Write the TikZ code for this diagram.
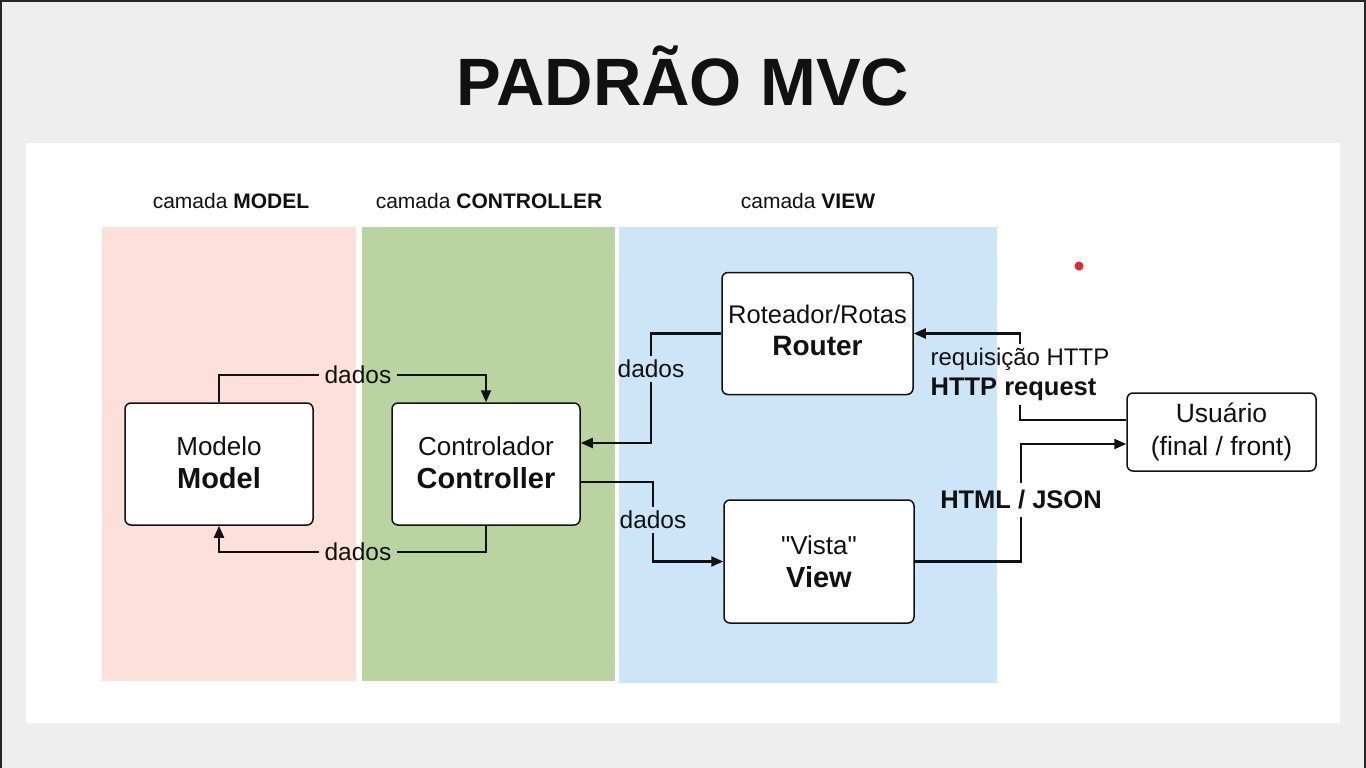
\documentclass[tikz,border=0pt]{standalone}
\usepackage{fontspec}
\setmainfont{Liberation Sans}
% same family without TeX ligatures, so a typed " stays straight
\newfontfamily\plainsans{Liberation Sans}
\usetikzlibrary{arrows.meta}
\definecolor{pagegray}{HTML}{EEEEEE}
\definecolor{modelpink}{HTML}{FDE0D9}
\definecolor{ctrlgreen}{HTML}{B9D4A0}
\definecolor{viewblue}{HTML}{CCE5F7}
\definecolor{dotred}{HTML}{E8262A}
\definecolor{ink}{HTML}{111111}

\begin{document}
\begin{tikzpicture}[x=1pt,y=-1pt,
  box/.style={draw=ink, line width=1.5pt, rounded corners=6pt, fill=white,
    align=center, inner sep=0pt, text=ink, font=\fontsize{26}{33}\selectfont},
  conn/.style={draw=ink, line width=2.2pt},
  arr/.style={conn, -{Triangle[length=12pt,width=10pt]}},
  lbl/.style={text=ink, font=\fontsize{24.5}{30}\selectfont, inner xsep=5pt, inner ysep=4pt},
  header/.style={anchor=base, text=ink, font=\fontsize{21}{24}\selectfont},
]
\useasboundingbox (0,0) rectangle (1366,768);

% page and white panel
\fill[pagegray] (0,0) rectangle (1366,768);
\draw[line width=2.5pt, black!85] (1,1) rectangle (1365,775);
\fill[white] (26,143) rectangle (1340,723);

% layer columns
\fill[modelpink] (102,227) rectangle (356,681);
\fill[ctrlgreen] (362,227) rectangle (615,681);
\fill[viewblue]  (619,227) rectangle (997,683);

% title and layer headers
\node[anchor=base, text=ink, font=\bfseries\fontsize{67}{80}\selectfont] (title) at (683,105) {PADRÃO MVC};
\node[header] (hmodel) at (231,208) {camada \textbf{MODEL}};
\node[header] (hctrl)  at (489,208) {camada \textbf{CONTROLLER}};
\node[header] (hview)  at (808,208) {camada \textbf{VIEW}};

% components
\node[box, minimum width=188pt, minimum height=122pt, text depth=3pt] (model) at (219,464)
  {Modelo\\{\bfseries\fontsize{29}{33}\selectfont Model}};
\node[box, minimum width=188pt, minimum height=122pt, text depth=3pt] (ctrl) at (486,464)
  {Controlador\\{\bfseries\fontsize{29}{33}\selectfont Controller}};
\node[box, minimum width=191pt, minimum height=122pt, text depth=7pt, font=\fontsize{25.5}{32}\selectfont] (router) at (817.5,333.5)
  {Roteador/Rotas\\{\bfseries\fontsize{28}{32}\selectfont Router}};
\node[box, minimum width=190pt, minimum height=123pt] (view) at (819,561.5)
  {{\plainsans"Vista"}\\{\bfseries\fontsize{29}{33}\selectfont View}};
\node[box, minimum width=189pt, minimum height=78pt, font=\fontsize{26.5}{33}\selectfont] (user) at (1221.5,432)
  {Usuário\\(final / front)};

% connector labels
\node[lbl] (d1) at (358,375) {dados};
\node[lbl] (d2) at (358,552) {dados};
\node[lbl] (d3) at (651,369) {dados};
\node[lbl] (d4) at (653,520) {dados};
\node[lbl, align=left, font=\fontsize{24}{30}\selectfont] (req) at (1020,374.5)
  {requisição HTTP\\{\bfseries\fontsize{25.5}{30}\selectfont HTTP request}};
\node[lbl, inner ysep=7pt, font=\bfseries\fontsize{25.5}{30}\selectfont] (hj) at (1021,500) {HTML / JSON};

% connectors
\draw[conn] (model.north) |- (d1.west);
\draw[arr]  (d1.east) -| (ctrl.north);
\draw[conn] (ctrl.south) |- (d2.east);
\draw[arr]  (d2.west) -| (model.south);
\draw[conn] (router.west) -| (d3.north);
\draw[arr]  (d3.south) |- ([yshift=21pt]ctrl.east);
\draw[conn] ([yshift=-18pt]ctrl.east) -| (d4.north);
\draw[arr]  (d4.south) |- (view.west);
\draw[conn] ([yshift=12pt]user.west) -| (req.south);
\draw[arr]  (req.north) |- (router.east);
\draw[conn] (view.east) -| (hj.south);
\draw[arr]  (hj.north) |- ([yshift=-12pt]user.west);

% pointer dot
\fill[dotred] (1079,266) circle (4.5);
\end{tikzpicture}
\end{document}
